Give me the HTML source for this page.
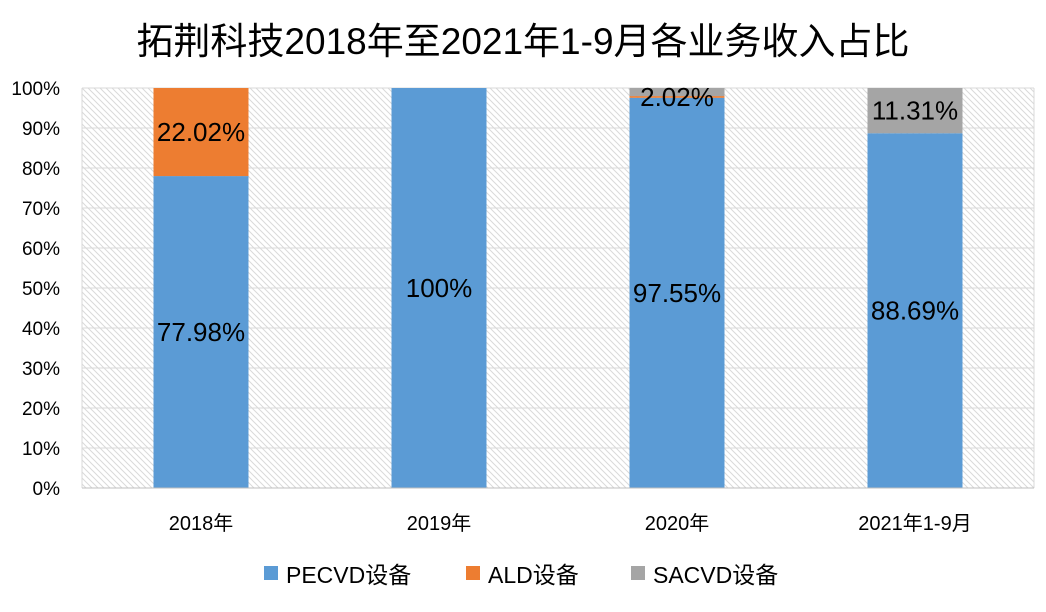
<!DOCTYPE html>
<html><head><meta charset="utf-8"><style>
body{margin:0;background:#fff;}
svg text{font-family:"Liberation Sans","Noto Sans CJK SC",sans-serif;}
</style></head><body>
<svg width="1046" height="607">
<defs><pattern id="h" width="6" height="6" patternUnits="userSpaceOnUse"><path d="M-1,-1 L7,7 M-1,5 L1,7 M5,-1 L7,1" stroke="#d9d9d9" stroke-width="1"/></pattern></defs>
<text x="523" y="54" font-size="37" text-anchor="middle">拓荆科技2018年至2021年1-9月各业务收入占比</text>
<rect x="82" y="88" width="952" height="400" fill="url(#h)"/>
<g id="grid"></g><g id="bars"></g><g id="axis"></g>
<g>
<rect x="264" y="566" width="14" height="14" fill="#5b9bd5"/>
<text x="286" y="583" font-size="23">PECVD设备</text>
<rect x="466" y="566" width="14" height="14" fill="#ed7d31"/>
<text x="488" y="583" font-size="23">ALD设备</text>
<rect x="631" y="566" width="14" height="14" fill="#a5a5a5"/>
<text x="653" y="583" font-size="23">SACVD设备</text>
</g>
</svg>
<script>
const categories=["2018年","2019年","2020年","2021年1-9月"];
const pecvd=[77.98,100,97.55,88.69];
const ald=[22.02,0,0.43,0];
const sacvd=[0,0,2.02,11.31];
const pecvdLabels=["77.98%","100%","97.55%","88.69%"];
const aldLabels=["22.02%","","",""];
const sacvdLabels=["","","2.02%","11.31%"];
const yTicks=[0,10,20,30,40,50,60,70,80,90,100];
const NS="http://www.w3.org/2000/svg";
const x0=82,x1=1034,yTop=88,yBot=488;
const y=v=>yBot-(v/100)*(yBot-yTop);
const bw=(x1-x0)/categories.length;
const cx=i=>x0+bw*(i+0.5);
function mk(t,a,p){const e=document.createElementNS(NS,t);for(const k in a)e.setAttribute(k,a[k]);p.appendChild(e);return e;}
const g=document.getElementById('grid'),b=document.getElementById('bars'),ax=document.getElementById('axis');
yTicks.forEach(v=>{
 const l=mk('line',{x1:x0,x2:x1,y1:y(v),y2:y(v),stroke:'#d9d9d9','stroke-width':1},g);
 
 
 const t=mk('text',{x:60,y:y(v)+7,'font-size':19,'text-anchor':'end'},ax);t.textContent=v+'%';
 
 
});
mk('line',{x1:x1,x2:x1,y1:yTop,y2:yBot,stroke:'#d9d9d9'},g);
mk('line',{x1:x0,x2:x0,y1:yTop,y2:yBot,stroke:'#d9d9d9'},g);
const series=[[pecvd,'#5b9bd5',pecvdLabels,'pecvd'],[ald,'#ed7d31',aldLabels,'ald'],[sacvd,'#a5a5a5',sacvdLabels,'sacvd']];
categories.forEach((c,i)=>{
 let base=0;const w=95;
 series.forEach(([vals,col,labs,nm])=>{
  const v=vals[i];
  if(v>0){
   const r=mk('rect',{x:cx(i)-w/2,y:y(base+v),width:w,height:y(base)-y(base+v),fill:col},b);
   
   
  }
  if(labs[i]){
   const mid=Math.min(base+v/2,100-2.2);
   const t=mk('text',{x:cx(i),y:y(mid)+9,'font-size':26,'text-anchor':'middle'},b);t.textContent=labs[i];
   
   
  }
  base+=v;
 });
 const t=mk('text',{x:cx(i),y:530,'font-size':20,'text-anchor':'middle'},ax);t.textContent=c;
 
 
});
mk('line',{x1:x0,x2:x1,y1:yBot,y2:yBot,stroke:'#bfbfbf'},ax);
</script>
</body></html>
